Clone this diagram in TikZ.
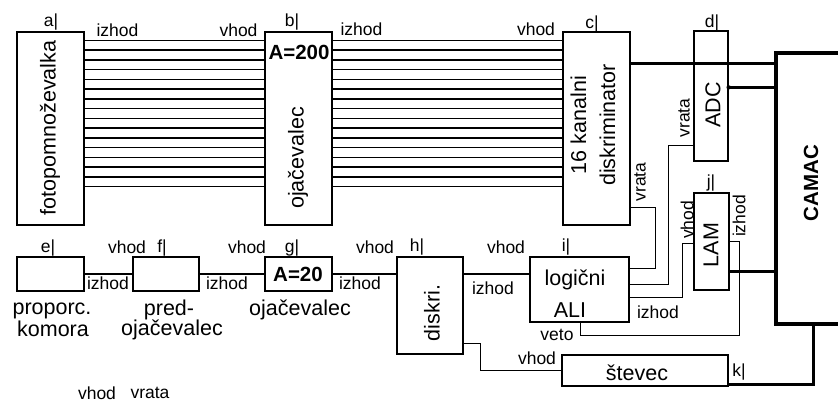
\documentclass[tikz,border=0pt]{standalone}
\usepackage{fontspec}
\setmainfont{Liberation Sans}
\usetikzlibrary{calc}
\newcommand\smfont{\fontsize{17.5}{20}\selectfont}
\newcommand\bigfont{\fontsize{21.5}{29}\selectfont}
\newcommand\boldfont{\fontsize{20.5}{24}\selectfont\bfseries}
\begin{document}
\begin{tikzpicture}[x=1pt,y=-1pt,
  blk/.style={draw, line width=1.3pt, inner sep=0pt, rectangle},
  lbl/.style={font=\smfont, inner sep=0pt},
  big/.style={font=\bigfont, inner sep=0pt},
  bld/.style={font=\boldfont, inner sep=0pt},
  wire/.style={line width=1.3pt},
  bus/.style={line width=3.5pt}]
\clip (0,0) rectangle (838,402);
\fill[white] (0,0) rectangle (838,402);
% boxes
\node[blk, minimum width=67pt, minimum height=193pt] (a) at (50.5,128.5) {};
\node[blk, minimum width=67pt, minimum height=193pt] (b) at (298.5,128.5) {};
\node[blk, minimum width=67pt, minimum height=193pt] (c) at (596.5,128.5) {};
\node[blk, minimum width=34pt, minimum height=130pt] (d) at (711,96) {};
\node[blk, minimum width=35pt, minimum height=97pt] (j) at (711.5,241.5) {};
\node[blk, minimum width=67pt, minimum height=34pt] (e) at (50.5,274) {};
\node[blk, minimum width=66pt, minimum height=34pt] (f) at (166,274) {};
\node[blk, minimum width=67pt, minimum height=34pt] (g) at (298.5,274) {};
\node[blk, minimum width=66pt, minimum height=97pt] (h) at (430,305.5) {};
\node[blk, minimum width=99pt, minimum height=65pt] (i) at (579.5,289.5) {};
\node[blk, minimum width=166pt, minimum height=31pt] (k) at (645,370.5) {};
\coordinate (cam) at (776,53);
\coordinate (camb) at (776,324);
% 16 channels
\foreach \n in {0,...,15}{
  \draw[wire] ($(a.north east)+(0,9+9.75*\n)$) -- ($(b.north west)+(0,9+9.75*\n)$);
  \draw[wire] ($(b.north east)+(0,9+9.75*\n)$) -- ($(c.north west)+(0,9+9.75*\n)$);
}
% bottom chain
\draw[wire] (e.east) -- (f.west);
\draw[wire] (f.east) -- (g.west);
\draw[wire] (g.east) -- (h.west |- g.east);
\draw[wire] (h.east |- g.east) -- (i.west |- g.east);
\draw[wire] ($(h.south east)+(0,-11)$) -- ++(17,0) |- (k.west);
\draw[wire] ($(i.north east)+(0,12)$) -- ++(26,0) |- ($(c.south east)+(0,-18)$);
\draw[wire] ($(i.north east)+(0,28)$) -- ++(39,0) |- ($(d.south west)+(0,-16)$);
\draw[wire] ($(i.north east)+(0,41)$) -- ++(53,0) |- ($(j.north west)+(0,51)$);
\draw[wire] ($(j.north east)+(0,49)$) -- ++(10,0) -- ++(0,94) -| ($(i.south west)+(51,0)$);
% CAMAC and buses
\draw[bus] (840,53) -- (cam) -- (camb) -- (840,324);
\draw[bus] ($(c.north east)+(0,32)$) -- (cam |- {$(c.north east)+(0,32)$});
\draw[bus] ($(d.north east)+(0,57)$) coordinate (adcout) -- (cam |- adcout);
\fill (adcout) circle (2.2pt);
\draw[bus] ($(j.north east)+(0,79)$) coordinate (lamout) -- (cam |- lamout);
\draw[bus] ($(k.south east)+(0,-2)$) -- ++(85,0) coordinate (kc) -- (kc |- camb);
% texts inside boxes
\node[big, rotate=90] (ta) at (50,128) {fotopomnoževalka};
\node[big, rotate=90] (tb) at (298,158) {ojačevalec};
\node[bld] (tb2) at (299,52) {A=200};
\node[big, rotate=90, align=center] (tc) at (593,125) {16 kanalni\\diskriminator};
\node[big, rotate=90] (td) at (713,105) {ADC};
\node[big, rotate=90] (tj) at (711,245) {LAM};
\node[bld] (tg) at (298,274) {A=20};
\node[big, rotate=90] (th) at (432,313) {diskri.};
\node[big, anchor=base] (ti1) at (575,285) {logični};
\node[big, anchor=base] (ti2) at (570,317) {ALI};
\node[big, anchor=base] (tk) at (637,380) {števec};
\node[bld, rotate=90] (tcam) at (811,183) {CAMAC};
% texts under boxes
\node[big, anchor=base] (te1) at (52,314) {proporc.};
\node[big, anchor=base] (te2) at (53,336) {komora};
\node[big, anchor=base] (tf1) at (169,315) {pred-};
\node[big, anchor=base] (tf2) at (172,335) {ojačevalec};
\node[big, anchor=base] (tg2) at (300,315) {ojačevalec};
% small labels
\node[lbl] (la) at (51,22) {a|};
\node[lbl] (lb) at (292,22) {b|};
\node[lbl] (lc) at (592,24) {c|};
\node[lbl] (ld) at (712,23) {d|};
\node[lbl] (l1) at (117.5,30) {izhod};
\node[lbl] (l2) at (238.5,30) {vhod};
\node[lbl] (l3) at (361.5,29) {izhod};
\node[lbl] (l4) at (536,29) {vhod};
\node[lbl, rotate=90] (l5) at (640,182) {vrata};
\node[lbl, rotate=90] (l6) at (684,118) {vrata};
\node[lbl, rotate=90] (l7) at (687,220) {vhod};
\node[lbl, rotate=90] (l8) at (739,216) {izhod};
\node[lbl] (lj) at (711,183) {j|};
\node[lbl] (le) at (48,248) {e|};
\node[lbl] (l9) at (127,247) {vhod};
\node[lbl] (lf) at (162,248) {f|};
\node[lbl] (l10) at (247,247) {vhod};
\node[lbl] (lg) at (292,248) {g|};
\node[lbl] (l11) at (375,247) {vhod};
\node[lbl] (lh) at (417,247) {h|};
\node[lbl] (l12) at (506,247) {vhod};
\node[lbl] (li) at (566,247) {i|};
\node[lbl] (l13) at (108,283) {izhod};
\node[lbl] (l14) at (227,283) {izhod};
\node[lbl] (l15) at (360,283) {izhod};
\node[lbl] (l16) at (493,288) {izhod};
\node[lbl] (l17) at (658,312) {izhod};
\node[lbl] (l18) at (557,335) {veto};
\node[lbl] (l19) at (537,358) {vhod};
\node[lbl] (lk) at (739,372) {k|};
\node[lbl] (l20) at (97,393) {vhod};
\node[lbl] (l21) at (150,393) {vrata};
\end{tikzpicture}
\end{document}
